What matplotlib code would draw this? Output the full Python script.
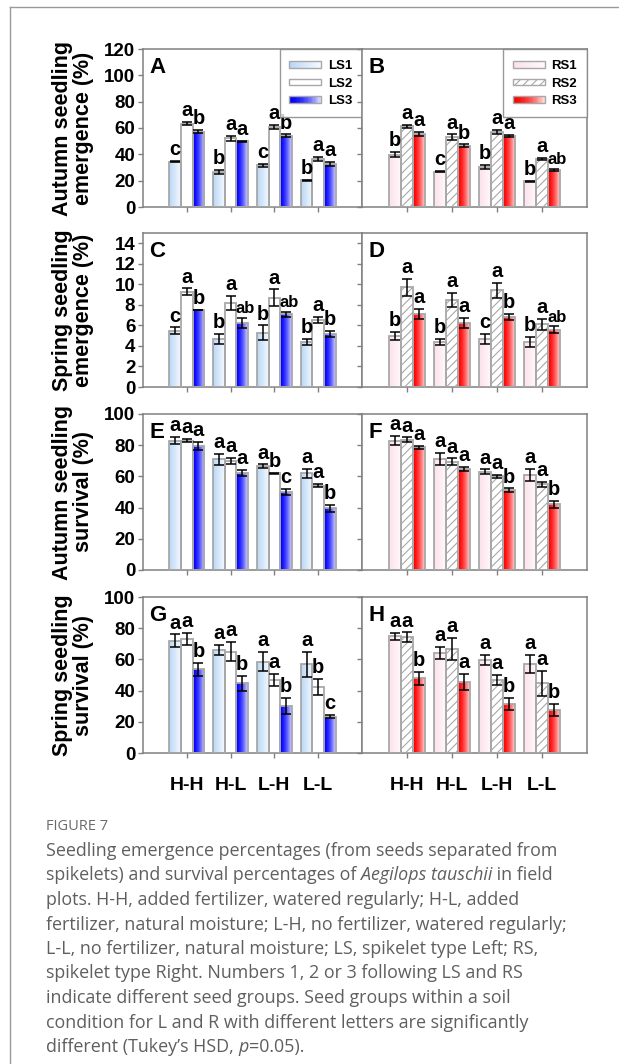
import numpy as np
import matplotlib
matplotlib.use("Agg")
import matplotlib.pyplot as plt
from matplotlib.patches import Rectangle, Patch
from matplotlib.legend_handler import HandlerBase
from matplotlib.lines import Line2D
from matplotlib.colors import to_rgb

plt.rcParams['font.family'] = ['Liberation Sans', 'DejaVu Sans']
plt.rcParams['hatch.color'] = '#8a8a8a'
plt.rcParams['hatch.linewidth'] = 0.8

# ---------------- data ----------------
conditions = ["H-H", "H-L", "L-H", "L-L"]
left_groups = ["LS1", "LS2", "LS3"]
right_groups = ["RS1", "RS2", "RS3"]

# Panel A: autumn seedling emergence (%), LS
A_mean = [[34.5, 26.5, 31.7, 20.2], [63.3, 52.1, 60.5, 36.5], [57.2, 49.8, 54.1, 32.7]]
A_err = [[0.6, 1.5, 1.0, 0.4], [1.0, 2.0, 1.5, 1.5], [1.0, 0.5, 1.0, 1.5]]
A_let = [["c", "b", "c", "b"], ["a", "a", "a", "a"], ["b", "a", "b", "a"]]
# Panel B: autumn seedling emergence (%), RS
B_mean = [[39.6, 26.8, 30.6, 19.4], [61.3, 53.1, 57.2, 36.5], [55.4, 46.5, 54.1, 28.1]]
B_err = [[2.0, 0.4, 1.5, 0.6], [1.0, 2.0, 1.5, 1.0], [1.5, 1.0, 0.6, 0.6]]
B_let = [["b", "c", "b", "b"], ["a", "a", "a", "a"], ["a", "b", "a", "ab"]]
# Panel C: spring seedling emergence (%), LS
C_mean = [[5.5, 4.7, 5.3, 4.35], [9.3, 8.2, 8.7, 6.5], [7.5, 6.2, 7.1, 5.2]]
C_err = [[0.3, 0.5, 0.7, 0.3], [0.3, 0.7, 0.8, 0.3], [0.0, 0.5, 0.25, 0.3]]
C_let = [["c", "b", "b", "b"], ["a", "a", "a", "a"], ["b", "ab", "ab", "b"]]
# Panel D: spring seedling emergence (%), RS
D_mean = [[5.0, 4.35, 4.65, 4.35], [9.7, 8.5, 9.4, 6.1], [7.1, 6.2, 6.8, 5.6]]
D_err = [[0.4, 0.3, 0.5, 0.5], [0.8, 0.7, 0.7, 0.5], [0.5, 0.5, 0.3, 0.3]]
D_let = [["b", "b", "c", "b"], ["a", "a", "a", "a"], ["a", "a", "b", "ab"]]
# Panel E: autumn seedling survival (%), LS
E_mean = [[83.0, 71.0, 66.7, 62.0], [83.0, 69.7, 62.0, 54.0], [79.5, 62.0, 49.8, 39.5]]
E_err = [[2.5, 3.5, 1.0, 3.0], [1.0, 2.0, 0.5, 1.0], [2.5, 2.0, 2.0, 2.0]]
E_let = [["a", "a", "a", "a"], ["a", "a", "b", "a"], ["a", "a", "c", "b"]]
# Panel F: autumn seedling survival (%), RS
F_mean = [[83.0, 71.0, 63.0, 61.0], [83.5, 69.5, 60.0, 55.0], [78.6, 64.7, 51.3, 42.0]]
F_err = [[3.0, 4.0, 1.5, 4.0], [1.5, 2.0, 1.0, 1.5], [1.0, 1.5, 1.0, 2.0]]
F_let = [["a", "a", "a", "a"], ["a", "a", "a", "a"], ["a", "a", "b", "b"]]
# Panel G: spring seedling survival (%), LS
G_mean = [[72.0, 66.0, 58.6, 57.0], [73.0, 65.0, 46.8, 42.5], [53.6, 44.6, 30.3, 23.2]]
G_err = [[4.0, 3.0, 6.0, 8.0], [4.0, 6.0, 4.0, 5.0], [4.0, 5.0, 5.0, 1.0]]
G_let = [["a", "a", "a", "a"], ["a", "a", "a", "b"], ["b", "b", "b", "c"]]
# Panel H: spring seedling survival (%), RS
H_mean = [[74.7, 64.0, 59.7, 57.0], [74.3, 66.5, 46.8, 44.6], [47.9, 45.7, 31.3, 27.5]]
H_err = [[2.0, 4.0, 3.0, 6.0], [3.0, 7.0, 3.0, 8.0], [4.0, 5.0, 4.0, 4.0]]
H_let = [["a", "a", "a", "a"], ["a", "a", "a", "a"], ["b", "a", "b", "b"]]

ylabels = ["Autumn seedling\nemergence (%)", "Spring seedling\nemergence (%)",
           "Autumn seedling\nsurvival (%)", "Spring seedling\nsurvival (%)"]
yticks_rows = [list(range(0, 121, 20)), list(range(0, 15, 2)),
               list(range(0, 101, 20)), list(range(0, 101, 20))]
ylims = [120, 15, 100, 100]

# ---------------- styles ----------------
W, H = 619, 1064
fig = plt.figure(figsize=(W / 100, H / 100), dpi=100)

EDGE = '#a8a8a8'
SPINE = '#808080'
left_styles = [dict(c0='#b9d7f6', c1='#f4f9ff', hatch=None, gamma=1.0),
               dict(c0='#ffffff', c1='#ffffff', hatch=None, gamma=1.0),
               dict(c0='#0000ff', c1='#dcdcff', hatch=None, gamma=1.6)]
right_styles = [dict(c0='#fde1ea', c1='#fff8fa', hatch=None, gamma=1.0),
                dict(c0='#ffffff', c1='#ffffff', hatch='////', gamma=1.0),
                dict(c0='#ff0000', c1='#ffd8d8', hatch=None, gamma=1.6)]


def grad_rgb(c0, c1, gamma, n=64):
    t = np.linspace(0, 1, n) ** gamma
    a, b = np.array(to_rgb(c0)), np.array(to_rgb(c1))
    return a[None, :] * (1 - t[:, None]) + b[None, :] * t[:, None]


class GradHandler(HandlerBase):
    def __init__(self, style):
        super().__init__()
        self.style = style

    def create_artists(self, legend, orig_handle, xdescent, ydescent,
                       width, height, fontsize, trans):
        st = self.style
        h = height * 0.62
        y0 = -ydescent + (height - h) / 2
        x0 = -xdescent
        n = 24
        cols = grad_rgb(st['c0'], st['c1'], st['gamma'], n)
        arts = []
        for i in range(n):
            arts.append(Rectangle((x0 + i * width / n, y0), width / n + 0.3, h,
                                  facecolor=cols[i], edgecolor='none', transform=trans))
        arts.append(Rectangle((x0, y0), width, h, facecolor='none', edgecolor=EDGE,
                              hatch=st['hatch'], lw=1.0, transform=trans))
        return arts


def px_axes(l, r, t, b):
    return fig.add_axes([l / W, 1 - b / H, (r - l) / W, (b - t) / H])


rows_px = [(49, 207), (233, 387), (414, 570), (597, 753)]
cols_px = [(143, 362), (362, 587)]
panels = [[(A_mean, A_err, A_let, 'A'), (B_mean, B_err, B_let, 'B')],
          [(C_mean, C_err, C_let, 'C'), (D_mean, D_err, D_let, 'D')],
          [(E_mean, E_err, E_let, 'E'), (F_mean, F_err, F_let, 'F')],
          [(G_mean, G_err, G_let, 'G'), (H_mean, H_err, H_let, 'H')]]

bw = 0.265
x = np.arange(1, len(conditions) + 1)

for ri, (t, b) in enumerate(rows_px):
    for ci, (l, r) in enumerate(cols_px):
        ax = px_axes(l, r, t, b)
        means, errs, lets, tag = panels[ri][ci]
        styles = left_styles if ci == 0 else right_styles
        names = left_groups if ci == 0 else right_groups
        ymax = ylims[ri]
        for gi in range(3):
            xs = x + (gi - 1) * bw
            st = styles[gi]
            bars = ax.bar(xs, means[gi], width=bw, facecolor='none', edgecolor=EDGE,
                          linewidth=1.3, hatch=st['hatch'], zorder=3)
            if st['c0'] != '#ffffff':
                img = grad_rgb(st['c0'], st['c1'], st['gamma'])[None, :, :]
                for p in bars.patches:
                    im = ax.imshow(img, extent=[p.get_x(), p.get_x() + p.get_width(),
                                                0, p.get_height()],
                                   aspect='auto', zorder=2, interpolation='bilinear')
                    im.set_clip_path(p)
            e = np.array(errs[gi])
            ax.errorbar(xs, means[gi], yerr=e, fmt='none', ecolor='black',
                        elinewidth=1.1, capsize=3.8, capthick=1.1, zorder=4)
            for k in range(len(x)):
                lab = lets[gi][k]
                two = len(lab) > 1
                ax.text(xs[k] + (0.07 if two else 0), means[gi][k] + e[k] + ymax * 0.012, lab,
                        ha='center', va='bottom', fontsize=12 if two else 14.5,
                        fontweight='bold', zorder=5)
        ax.set_xlim(0, 5)
        ax.set_ylim(0, ymax)
        ax.set_yticks(yticks_rows[ri])
        ax.set_xticks(x)
        for s in ax.spines.values():
            s.set_color(SPINE)
            s.set_linewidth(1.1)
        ax.tick_params(axis='both', direction='out', length=3.5, width=1.0,
                       color=SPINE, labelsize=13.5, pad=2)
        for lab in ax.get_yticklabels():
            lab.set_fontweight('bold')
        if ci == 1:
            ax.set_yticklabels([])
        if ri == 3:
            ax.set_xticklabels(conditions, fontsize=14, fontweight='bold')
            ax.tick_params(axis='x', pad=14)
        else:
            ax.set_xticklabels([])
        ax.text(0.03, 0.95, tag, transform=ax.transAxes, ha='left', va='top',
                fontsize=16, fontweight='bold', zorder=6)
        if ri == 0:
            handles = [Patch(label=n) for n in names]
            hmap = {h_: GradHandler(s_) for h_, s_ in zip(handles, styles)}
            leg = ax.legend(handles=handles, handler_map=hmap, loc='upper right',
                            borderaxespad=0, fancybox=False, frameon=True,
                            prop={'weight': 'bold', 'size': 9.5}, handlelength=2.4,
                            handleheight=0.9, handletextpad=0.5, labelspacing=0.35,
                            borderpad=0.75)
            leg.get_frame().set_edgecolor(SPINE)
            leg.get_frame().set_linewidth(1.0)
            leg.set_zorder(10)
        if ci == 0:
            fig.text(73 / W, 1 - ((t + b) / 2) / H, ylabels[ri], rotation=90,
                     ha='center', va='center', fontsize=15.5, fontweight='bold',
                     linespacing=1.0)

# ---------------- frame ----------------
fig.add_artist(Line2D([10 / W, 10 / W], [0, 1 - 7 / H], transform=fig.transFigure,
                      color='#9a9a9a', lw=1.0))
fig.add_artist(Line2D([10 / W, 1], [1 - 7 / H, 1 - 7 / H], transform=fig.transFigure,
                      color='#9a9a9a', lw=1.0))

# ---------------- caption ----------------
CAP = '#5f5f5f'
capfam = ['Open Sans', 'DejaVu Sans']
fig.text(46 / W, 1 - 826 / H, "FIGURE 7", ha='left', va='center', fontsize=10.5,
         color='#6a6a6a', family=capfam)

cap_lines = [
    [("Seedling emergence percentages (from seeds separated from", 'normal')],
    [("spikelets) and survival percentages of ", 'normal'), ("Aegilops tauschii", 'italic'),
     (" in field", 'normal')],
    [("plots. H-H, added fertilizer, watered regularly; H-L, added", 'normal')],
    [("fertilizer, natural moisture; L-H, no fertilizer, watered regularly;", 'normal')],
    [("L-L, no fertilizer, natural moisture; LS, spikelet type Left; RS,", 'normal')],
    [("spikelet type Right. Numbers 1, 2 or 3 following LS and RS", 'normal')],
    [("indicate different seed groups. Seed groups within a soil", 'normal')],
    [("condition for L and R with different letters are significantly", 'normal')],
    [("different (Tukey\u2019s HSD, ", 'normal'), ("p", 'italic'), ("=0.05).", 'normal')],
]
renderer = fig.canvas.get_renderer()
CAPSIZE = 12.9


def seg_width(s, style):
    t1 = fig.text(0, 0, s + '|', fontsize=CAPSIZE, family=capfam, style=style)
    t2 = fig.text(0, 0, '|', fontsize=CAPSIZE, family=capfam, style=style)
    w = t1.get_window_extent(renderer).width - t2.get_window_extent(renderer).width
    t1.remove()
    t2.remove()
    return w


for li, segs in enumerate(cap_lines):
    ypx = 851 + li * 24.5
    xpx = 46
    for s, style in segs:
        fig.text(xpx / W, 1 - ypx / H, s, ha='left', va='center', fontsize=CAPSIZE,
                 family=capfam, style=style, color=CAP)
        xpx += seg_width(s, style)

fig.savefig("out.png", dpi=100, facecolor='white')
